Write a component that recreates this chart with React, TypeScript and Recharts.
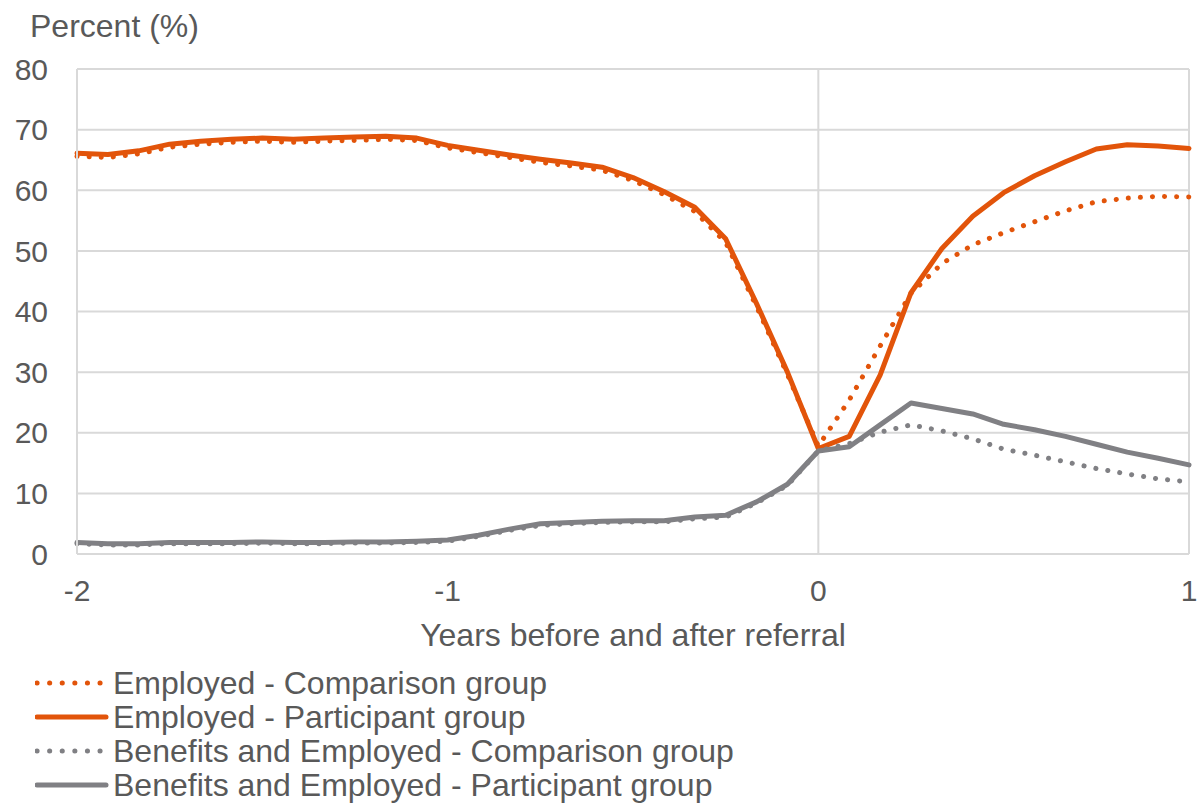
import { LineChart, Line, XAxis, YAxis, CartesianGrid, ReferenceLine } from "recharts";

// months relative to referral, -24 .. 12
const months = [
  -24, -23, -22, -21, -20, -19, -18, -17, -16, -15, -14, -13, -12, -11, -10, -9, -8, -7, -6,
  -5, -4, -3, -2, -1, 0, 1, 2, 3, 4, 5, 6, 7, 8, 9, 10, 11, 12,
];

const employedComparison = [
  65.6, 65.4, 66.0, 67.1, 67.6, 67.9, 68.1, 67.9, 68.1, 68.2, 68.4, 68.2, 67.0, 66.2, 65.4,
  64.6, 64.0, 63.3, 61.6, 59.3, 56.5, 51.4, 40.8, 29.6, 17.8, 25.4, 34.3, 43.0, 47.9, 51.0,
  53.0, 54.8, 56.6, 58.1, 58.7, 59.0, 58.9,
];
const employedParticipant = [
  66.1, 65.9, 66.5, 67.6, 68.1, 68.4, 68.6, 68.4, 68.6, 68.8, 68.9, 68.6, 67.4, 66.6, 65.8,
  65.1, 64.5, 63.8, 62.1, 59.8, 57.2, 52.0, 41.3, 30.0, 17.4, 19.4, 29.5, 43.1, 50.4, 55.7,
  59.6, 62.4, 64.7, 66.8, 67.5, 67.3, 66.9,
];
const benefitsComparison = [
  1.7, 1.5, 1.5, 1.7, 1.7, 1.7, 1.8, 1.7, 1.7, 1.8, 1.8, 1.9, 2.1, 2.9, 3.9, 4.7, 5.0, 5.2,
  5.3, 5.3, 5.8, 6.1, 8.4, 11.3, 17.0, 18.2, 20.1, 21.3, 20.3, 19.0, 17.3, 16.3, 15.2, 14.1,
  13.2, 12.4, 11.9,
];
const benefitsParticipant = [
  1.9, 1.7, 1.7, 1.9, 1.9, 1.9, 2.0, 1.9, 1.9, 2.0, 2.0, 2.1, 2.3, 3.1, 4.1, 5.0, 5.2, 5.4,
  5.5, 5.5, 6.1, 6.4, 8.6, 11.5, 17.0, 17.7, 21.3, 24.9, 24.0, 23.1, 21.4, 20.5, 19.4, 18.1,
  16.8, 15.8, 14.7,
];

const xTicks = [-2, -1, 0, 1];
const yTicks = [0, 10, 20, 30, 40, 50, 60, 70, 80];

const ORANGE = "#E2540A";
const GREY = "#808084";
const TEXT = "#595959";
const GRID = "#d9d9d9";
const FONT = "'Liberation Sans', Arial, sans-serif";

const series = [
  { key: "empComp", name: "Employed - Comparison group", color: ORANGE, dotted: true, values: employedComparison },
  { key: "empPart", name: "Employed - Participant group", color: ORANGE, dotted: false, values: employedParticipant },
  { key: "benComp", name: "Benefits and Employed - Comparison group", color: GREY, dotted: true, values: benefitsComparison },
  { key: "benPart", name: "Benefits and Employed - Participant group", color: GREY, dotted: false, values: benefitsParticipant },
];

const data = months.map((m, i) => {
  const row: Record<string, number> = { year: m / 12 };
  series.forEach((s) => (row[s.key] = s.values[i]));
  return row;
});

export default function App() {
  return (
    <div style={{ position: "absolute", left: 0, top: 0, width: 1198, height: 805, background: "#fff", fontFamily: FONT }}>
      <LineChart width={1198} height={660} data={data} margin={{ top: 69, right: 9, bottom: 6, left: 0 }}>
        <CartesianGrid vertical={false} stroke={GRID} strokeWidth={2} />
        <XAxis
          dataKey="year"
          type="number"
          domain={[-2, 1]}
          ticks={xTicks}
          height={100}
          axisLine={false}
          tickLine={false}
          tickMargin={20}
          tick={{ fill: TEXT, fontSize: 30, fontFamily: FONT }}
          label={{
            content: (p: any) => (
              <text x={p.viewBox.x + p.viewBox.width / 2} y={p.viewBox.y + 92} textAnchor="middle" fill={TEXT} fontSize={32} fontFamily={FONT}>
                Years before and after referral
              </text>
            ),
          }}
        />
        <YAxis
          type="number"
          domain={[0, 80]}
          ticks={yTicks}
          width={77}
          axisLine={{ stroke: GRID, strokeWidth: 2 }}
          tickLine={false}
          tickMargin={23}
          tick={{ fill: TEXT, fontSize: 30, fontFamily: FONT }}
          label={{
            content: (p: any) => (
              <text x={30} y={p.viewBox.y - 32} fill={TEXT} fontSize={32} fontFamily={FONT}>
                Percent (%)
              </text>
            ),
          }}
        />
        <ReferenceLine x={0} stroke={GRID} strokeWidth={2} />
        <ReferenceLine x={1} stroke={GRID} strokeWidth={2} />
        {series.map((s) => (
          <Line
            key={s.key}
            dataKey={s.key}
            name={s.name}
            stroke={s.color}
            strokeWidth={5}
            strokeDasharray={s.dotted ? "0.1 12" : undefined}
            strokeLinecap="round"
            strokeLinejoin="round"
            dot={false}
            activeDot={false}
            isAnimationActive={false}
          />
        ))}
      </LineChart>
      <div style={{ position: "absolute", left: 35, top: 666 }}>
        {series.map((s) => (
          <div key={s.key} style={{ display: "flex", alignItems: "center", height: 34 }}>
            <svg width={78} height={34}>
              <line
                x1={2}
                x2={s.dotted ? 66 : 71}
                y1={17}
                y2={17}
                stroke={s.color}
                strokeWidth={5}
                strokeLinecap="round"
                strokeDasharray={s.dotted ? "0.1 12.5" : undefined}
              />
            </svg>
            <span style={{ fontSize: 32, color: TEXT, lineHeight: "34px", whiteSpace: "nowrap" }}>{s.name}</span>
          </div>
        ))}
      </div>
    </div>
  );
}
